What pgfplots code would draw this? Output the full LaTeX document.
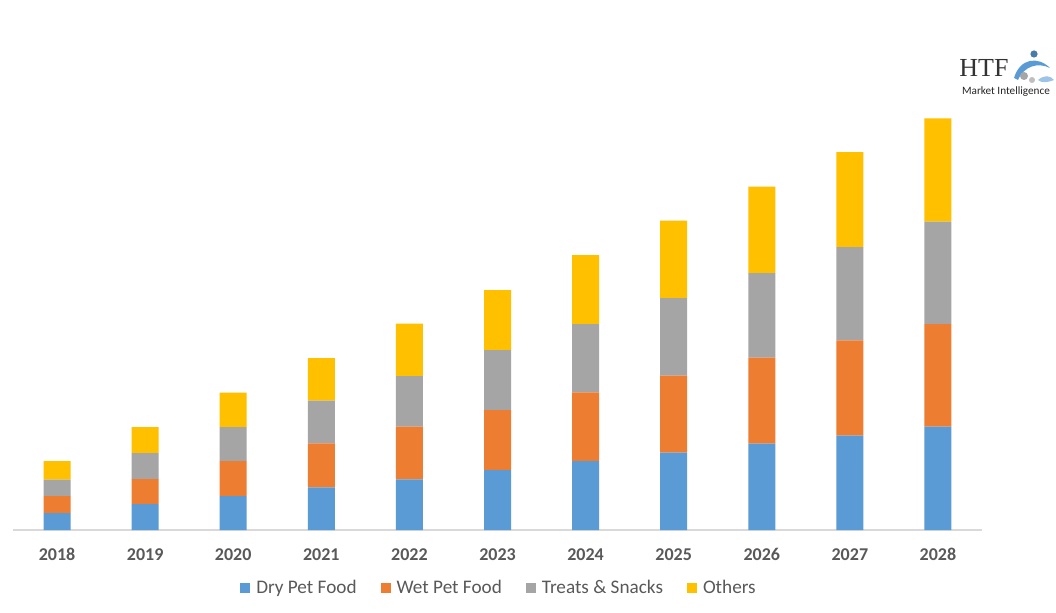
\documentclass[border=0pt]{standalone}
\usepackage{fontspec}
\setmainfont{Carlito}
\newfontfamily\serifl{Liberation Serif}
\usepackage{pgfplots}
\pgfplotsset{compat=1.18}
\definecolor{cblue}{HTML}{5B9BD5}
\definecolor{corange}{HTML}{ED7D31}
\definecolor{cgray}{HTML}{A5A5A5}
\definecolor{cyellow}{HTML}{FFC000}
\definecolor{ctext}{HTML}{595959}
\begin{document}
\begin{tikzpicture}
\fill[white] (0,0) rectangle (528pt,306pt);
\begin{axis}[
  at={(6.5pt,41pt)}, anchor=south west,
  scale only axis, width=484.5pt, height=215pt,
  ybar stacked, bar width=13.5pt,
  xmin=-0.5, xmax=10.5, ymin=0, ymax=430,
  axis y line=none, axis x line=bottom,
  x axis line style={-, draw=black!15, line width=0.6pt},
  xtick={0,1,2,3,4,5,6,7,8,9,10},
  xticklabels={2018,2019,2020,2021,2022,2023,2024,2025,2026,2027,2028},
  major tick length=0pt,
  xticklabel style={font=\bfseries\fontsize{9}{10}\selectfont, text=ctext, inner sep=0pt, anchor=north, yshift=-9pt},
  legend columns=4,
  legend style={draw=none, at={(0.5,-0.135)}, anchor=center, xshift=1.75pt,
    font=\fontsize{9.6}{11}\selectfont, text=ctext,
    /tikz/every even column/.append style={column sep=9pt},
    nodes={inner xsep=3pt, inner ysep=1pt}},
  legend cell align=left,
  legend image code/.code={\fill[#1] (0pt,-2.5pt) rectangle (5pt,2.5pt);},
]
\addplot[fill=cblue, draw=none] coordinates {(0,17) (1,26) (2,34) (3,42.7) (4,50.7) (5,60) (6,69) (7,77.3) (8,86.3) (9,94.3) (10,103.3)};
\addplot[fill=corange, draw=none] coordinates {(0,17) (1,25) (2,35) (3,44) (4,52.6) (5,60) (6,68.7) (7,77) (8,86) (9,95.4) (10,102.7)};
\addplot[fill=cgray, draw=none] coordinates {(0,16.5) (1,26) (2,34) (3,42.6) (4,50.7) (5,60) (6,68.3) (7,77.7) (8,84.7) (9,93.3) (10,102.3)};
\addplot[fill=cyellow, draw=none] coordinates {(0,18.3) (1,26) (2,34.5) (3,42.7) (4,52.3) (5,60) (6,69) (7,77.3) (8,86.3) (9,95) (10,103.4)};
\legend{Dry Pet Food, Wet Pet Food, Treats \& Snacks, Others}
\end{axis}
% logo
\node[font=\serifl\fontsize{13}{14}\selectfont, text=black!80, inner sep=0pt] at (492pt,272pt) {HTF};
\node[font=\fontsize{5.6}{6}\selectfont, text=black!85, inner sep=0pt] at (503pt,260pt) {Market Intelligence};
\fill[cblue!80!black] (517pt,279pt) circle (1.8pt);
\fill[cblue] (507pt,267pt) .. controls (510pt,277pt) and (519pt,278pt) .. (525pt,272pt) .. controls (519pt,275pt) and (512pt,273pt) .. (509pt,266pt) -- cycle;
\fill[gray!70] (512pt,268pt) circle (2pt);
\fill[gray!50] (516pt,266pt) circle (1.5pt);
\fill[cblue!60] (519pt,266pt) .. controls (522pt,268.5pt) and (525pt,268.5pt) .. (527pt,266pt) .. controls (523pt,264.5pt) and (521pt,264.5pt) .. (519pt,266pt) -- cycle;
\end{tikzpicture}
\end{document}
